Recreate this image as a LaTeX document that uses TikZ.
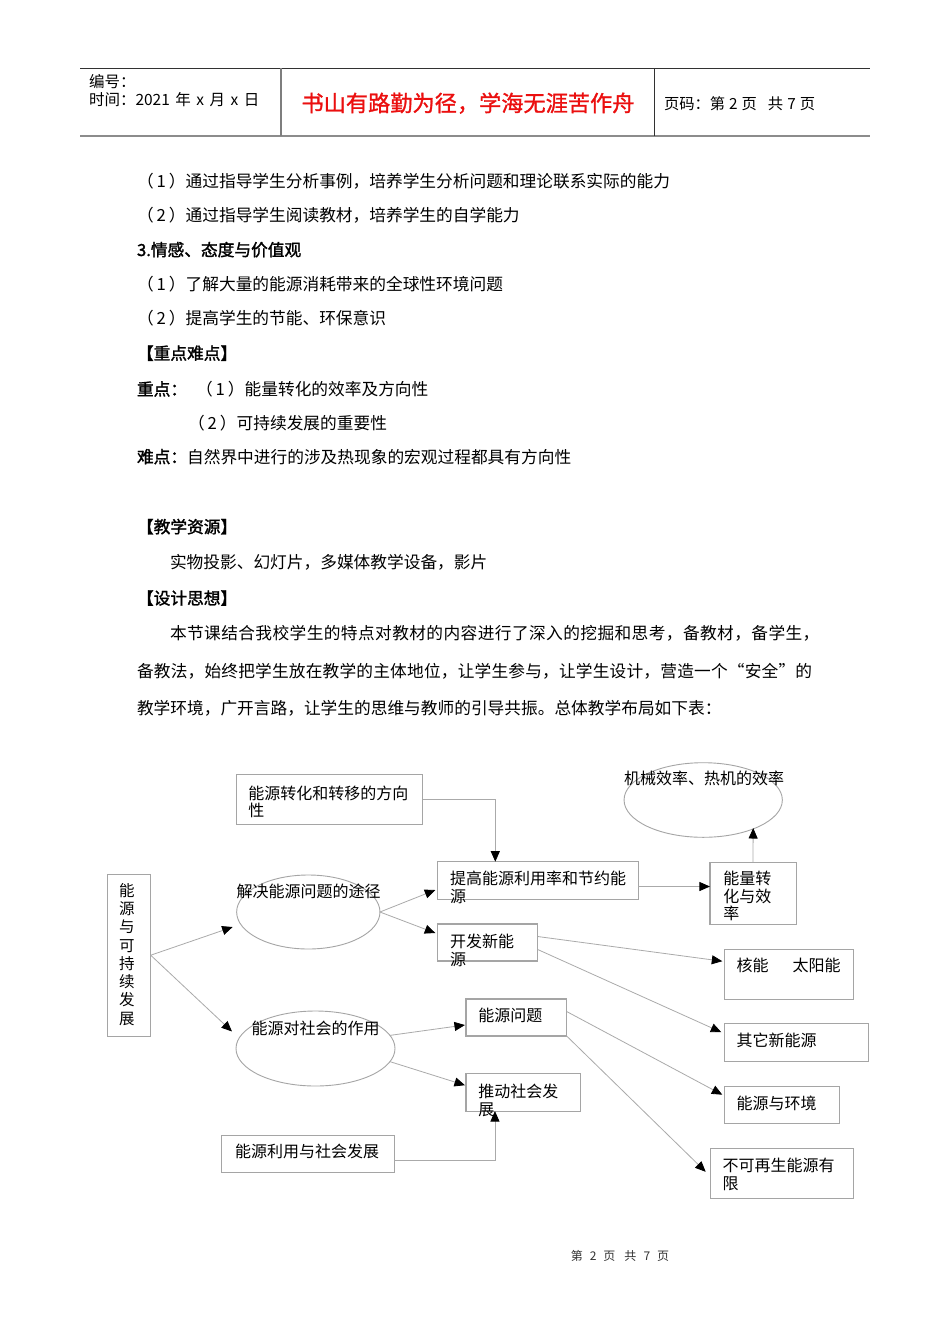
\documentclass[tikz,border=0pt]{standalone}
\usepackage{fontspec}
\usetikzlibrary{arrows.meta,shapes.geometric,calc}
\newfontfamily\cjk{Noto Sans CJK SC}
\newfontfamily\cjkb[FakeBold=1.6]{Noto Sans CJK SC}
\newfontfamily\cjkt[FakeBold=1.2]{Noto Sans CJK SC}
\newcommand{\pa}[1]{（\hspace{3pt}#1\hspace{3pt}）}
\definecolor{boxgray}{RGB}{165,165,165}
\definecolor{linegray}{RGB}{170,170,170}
\definecolor{titlered}{RGB}{235,15,15}
\definecolor{hdark}{RGB}{50,50,50}
\definecolor{hgray}{RGB}{140,140,140}
\begin{document}
\begin{tikzpicture}[x=1pt,y=-1pt,
  body/.style={anchor=base west,inner sep=0pt,outer sep=0pt,font=\cjk\fontsize{16.7}{20}\selectfont},
  bodyb/.style={anchor=base west,inner sep=0pt,outer sep=0pt,font=\cjkb\fontsize{16.7}{20}\selectfont},
  box/.style={rectangle,draw=boxgray,line width=1.1pt,inner sep=0pt,outer sep=0pt},
  ell/.style={ellipse,draw=boxgray,line width=0.9pt,inner sep=0pt,outer sep=0pt},
  dt/.style={anchor=base west,inner sep=0pt,outer sep=0pt,font=\cjk\fontsize{16}{17.6}\selectfont},
  conn/.style={draw=linegray,line width=0.8pt,-{Triangle[length=10.5pt,width=9pt,color=black]}},
  hd/.style={anchor=base west,inner sep=0pt,outer sep=0pt,font=\cjk\fontsize{15.5}{18}\selectfont}
]
\useasboundingbox (0,0) rectangle (950,1344);
\fill[white] (0,0) rectangle (950,1344);

% ---------- header ----------
\draw[hdark,line width=1pt] (80,68.3) -- (870,68.3);
\draw[hgray,line width=2pt] (80,135.5) -- (870,135.5);
\draw[hgray!90!black,line width=1.5pt] (281,68.3) -- (281,135.5);
\draw[hdark,line width=1pt] (654.3,68.3) -- (654.3,135.5);
\node[hd] (h1) at (89,87) {编号：};
\node[hd] (h2) at (89,105.2) {时间：2021\hspace{5.5pt}年\hspace{5.5pt}x\hspace{5.5pt}月\hspace{5.5pt}x\hspace{5.5pt}日};
\node[anchor=base,inner sep=0pt,text=titlered,font=\cjkt\fontsize{22.2}{24}\selectfont] (h3) at (468,111.4) {书山有路勤为径，学海无涯苦作舟};
\node[hd,font=\cjk\fontsize{15.3}{18}\selectfont] (h4) at (664,109) {页码：第\hspace{4pt}2\hspace{4pt}页\hspace{11pt}共\hspace{4pt}7\hspace{4pt}页};

% ---------- body text ----------
\node[body] (l1) at (137,187.3) {\pa{1}通过指导学生分析事例，培养学生分析问题和理论联系实际的能力};
\node[body] (l2) at (137,221.3) {\pa{2}通过指导学生阅读教材，培养学生的自学能力};
\node[bodyb] (l3) at (137,256) {3.情感、态度与价值观};
\node[body] (l4) at (137,290.3) {\pa{1}了解大量的能源消耗带来的全球性环境问题};
\node[body] (l5) at (137,324.5) {\pa{2}提高学生的节能、环保意识};
\node[bodyb] (l6) at (137,359.5) {【重点难点】};
\node[bodyb] (l7) at (137,395.4) {重点：};
\node[body] (l7b) at (196,395.4) {\pa{1}能量转化的效率及方向性};
\node[body] (l8) at (188,429.5) {\pa{2}可持续发展的重要性};
\node[bodyb] (l9) at (137,463) {难点：};
\node[body] (l9b) at (187.1,463) {自然界中进行的涉及热现象的宏观过程都具有方向性};
\node[bodyb] (l10) at (137,533) {【教学资源】};
\node[body] (l11) at (170,568.8) {实物投影、幻灯片，多媒体教学设备，影片};
\node[bodyb] (l12) at (137,604.4) {【设计思想】};
\node[body,font=\cjk\fontsize{16.7}{20}\selectfont\addfontfeature{LetterSpace=2.4}] (l13) at (170,639.5) {本节课结合我校学生的特点对教材的内容进行了深入的挖掘和思考，备教材，备学生，};
\node[body,font=\cjk\fontsize{16.7}{20}\selectfont\addfontfeature{LetterSpace=1.1}] (l14) at (137,677) {备教法，始终把学生放在教学的主体地位，让学生参与，让学生设计，营造一个“安全”的};
\node[body] (l15) at (137,714) {教学环境，广开言路，让学生的思维与教师的引导共振。总体教学布局如下表：};

% ---------- diagram shapes ----------
\node[box,minimum width=43.4,minimum height=161.7] (vb) at (129,955.2) {};
\node[box,minimum width=186,minimum height=49.7] (b2) at (329.7,799.2) {};
\node[box,minimum width=201,minimum height=37.6] (b4) at (537.8,880.5) {};
\node[box,minimum width=100.4,minimum height=37] (b5) at (487.5,942.5) {};
\node[box,minimum width=86.7,minimum height=62] (b7) at (753.3,893.3) {};
\node[box,minimum width=129,minimum height=49.7] (b8) at (788.8,974.2) {};
\node[box,minimum width=144,minimum height=37.7] (b9) at (796.3,1042.2) {};
\node[box,minimum width=100.7,minimum height=37] (b11) at (516.3,1017.5) {};
\node[box,minimum width=114.7,minimum height=37.7] (b12) at (523.3,1092.2) {};
\node[box,minimum width=172.6,minimum height=37] (b13) at (308,1154.2) {};
\node[box,minimum width=115,minimum height=37.3] (b14) at (781.8,1104.7) {};
\node[box,minimum width=142.6,minimum height=50] (b15) at (782,1173.3) {};
\node[ell,minimum width=143.3,minimum height=74] (e1) at (308.3,912) {};
\node[ell,minimum width=159,minimum height=75] (e2) at (315.5,1048.5) {};
\node[ell,minimum width=158.3,minimum height=74.6] (e6) at (703.2,800) {};

% ---------- diagram texts ----------
\node[dt,font=\cjk\fontsize{15.5}{18.3}\selectfont] (tvb) at (119,896.1)
  {\vtop{\hbox{能}\hbox{源}\hbox{与}\hbox{可}\hbox{持}\hbox{续}\hbox{发}\hbox{展}}};
\node[dt] (t2) at (248.3,799.1) {\vtop{\hbox{能源转化和转移的方向}\hbox{性}}};
\node[dt] (te1) at (236.7,897.8) {解决能源问题的途径};
\node[dt] (t4) at (450,884.4) {\vtop{\hbox{提高能源利用率和节约能}\hbox{源}}};
\node[dt] (t5) at (450,947.8) {\vtop{\hbox{开发新能}\hbox{源}}};
\node[dt] (te6) at (624,784.4) {机械效率、热机的效率};
\node[dt] (t7) at (723.3,884.4) {\vtop{\hbox{能量转}\hbox{化与效}\hbox{率}}};
\node[dt] (t8) at (736.7,971.8) {核能\hspace{24pt}太阳能};
\node[dt] (t9) at (736.7,1046.1) {其它新能源};
\node[dt] (te2) at (251.7,1034.4) {能源对社会的作用};
\node[dt] (t11) at (478.3,1021.1) {能源问题};
\node[dt] (t12) at (478.3,1097.8) {\vtop{\hbox{推动社会发}\hbox{展}}};
\node[dt] (t13) at (235,1157.8) {能源利用与社会发展};
\node[dt] (t14) at (736.7,1109.4) {能源与环境};
\node[dt,font=\cjk\fontsize{16}{18.3}\selectfont] (t15) at (722.7,1171.1) {\vtop{\hbox{不可再生能源有}\hbox{限}}};

% ---------- connectors ----------
\draw[conn] (vb.east) -- ($(e1.west)+(-4,15)$);
\draw[conn] (vb.east) -- ($(e2.west)+(-4,-17)$);
\draw[conn] (e1.east) -- ($(b4.west)+(-2,9.5)$);
\draw[conn] (e1.east) -- ($(b5.west)+(-2,-9.5)$);
\draw[conn] (b2.east) -| ($(b4.north west)+(58,0)$);
\coordinate (f1) at ($(b4.east)+(0,6)$);
\draw[conn] (f1) -- (f1 -| b7.west);
\coordinate (g1) at ($(b7.north west)+(43,0)$);
\coordinate (g2) at ($(e6.center)+(50,28)$);
\draw[conn] (g1) -- (g2);
\draw[conn] ($(b5.east)+(0,-6)$) -- ($(b8.west)+(-2,-13)$);
\draw[conn] ($(b5.east)+(0,7)$) -- ($(b9.west)+(-3,-10)$);
\draw[conn] (e2.10) -- ($(b11.west)+(-1,7.5)$);
\draw[conn] (e2.-10) -- ($(b12.west)+(-1,-7)$);
\coordinate (l1c) at ($(b13.east)+(0,6)$);
\draw[conn] (l1c) -| ($(b12.south west)+(29,0)$);
\draw[conn] ($(b11.east)+(0,-6)$) -- ($(b14.west)+(-2,-10)$);
\draw[conn] (b11.south east) -- ($(b15.west)+(-5,-1.5)$);

% ---------- footer ----------
\node[anchor=base,inner sep=0pt,text=hdark,font=\cjk\fontsize{12}{14}\selectfont] (ft) at (620,1260.3)
  {第\hspace{7pt}2\hspace{7pt}页\hspace{9pt}共\hspace{7pt}7\hspace{7pt}页};
\end{tikzpicture}
\end{document}
